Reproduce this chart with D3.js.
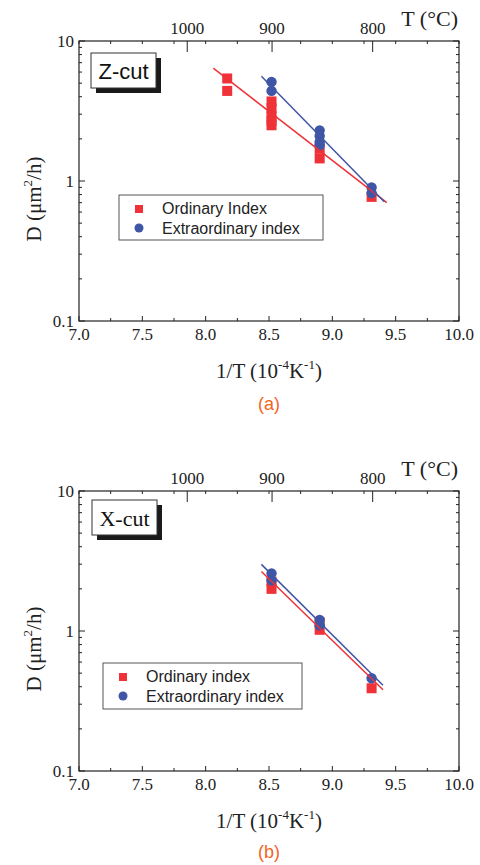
<!DOCTYPE html>
<html>
<head>
<meta charset="utf-8">
<script src="https://cdn.jsdelivr.net/npm/d3@7"></script>
<style>
  body { margin: 0; background: #fff; }
  svg { display: block; }
  .serif { font-family: "Liberation Serif", "Times New Roman", serif; }
  .sans { font-family: "Liberation Sans", Arial, sans-serif; }
</style>
</head>
<body>
<div id="chart"></div>
<script>
// axis ticks
var xMajor = [7.0, 7.5, 8.0, 8.5, 9.0, 9.5, 10.0];
var xMinor = [7.25, 7.75, 8.25, 8.75, 9.25, 9.75];
var tempTicks = [1000, 900, 800];
var yMajor = [0.1, 1, 10];

// Z-cut data (1/T in 1e-4 K^-1, D in um^2/h)
var zOrdX = [8.17, 8.17, 8.52, 8.52, 8.52, 8.52, 8.52, 8.90, 8.90, 9.31];
var zOrdD = [5.4, 4.4, 3.7, 3.3, 2.9, 2.7, 2.5, 1.7, 1.45, 0.77];
var zExtX = [8.52, 8.52, 8.90, 8.90, 8.90, 8.90, 9.31, 9.31];
var zExtD = [5.1, 4.4, 2.3, 2.1, 1.9, 1.8, 0.9, 0.82];
var zOrdFitX = [8.06, 9.43], zOrdFitD = [6.4, 0.70];
var zExtFitX = [8.44, 9.41], zExtFitD = [5.6, 0.71];

// X-cut data
var xOrdX = [8.52, 8.52, 8.90, 8.90, 9.31];
var xOrdD = [2.25, 2.0, 1.15, 1.02, 0.39];
var xExtX = [8.52, 8.52, 8.90, 8.90, 9.31];
var xExtD = [2.58, 2.3, 1.2, 1.1, 0.46];
var xOrdFitX = [8.44, 9.40], xOrdFitD = [2.66, 0.38];
var xExtFitX = [8.44, 9.40], xExtFitD = [2.99, 0.41];

var red = "#ee3237";
var blue = "#3f55a5";

var svg = d3.select("#chart").append("svg")
    .attr("width", 480)
    .attr("height", 865);

var x = d3.scaleLinear().domain([7, 10]).range([79, 459]);

function zip(a, b) { return a.map(function(v, i) { return {x: v, d: b[i]}; }); }

function drawPanel(top, opt) {
    var y = d3.scaleLog().domain([0.1, 10]).range([top + 280, top]);
    var g = svg.append("g");
    var bottom = top + 280;

    // frame
    g.append("rect")
        .attr("x", x(7)).attr("y", top)
        .attr("width", x(10) - x(7)).attr("height", 280)
        .attr("fill", "none").attr("stroke", "#222").attr("stroke-width", 1.2);

    // bottom axis ticks + mirror on top
    xMajor.forEach(function(v) {
        g.append("line").attr("x1", x(v)).attr("x2", x(v))
            .attr("y1", bottom).attr("y2", bottom - 5).attr("stroke", "#222");
        g.append("text").attr("class", "serif")
            .attr("x", x(v)).attr("y", bottom + 19)
            .attr("text-anchor", "middle").attr("font-size", 17).attr("fill", "#222")
            .text(d3.format(".1f")(v));
    });
    xMinor.concat(xMajor).forEach(function(v) {
        if (xMinor.indexOf(v) >= 0) {
            g.append("line").attr("x1", x(v)).attr("x2", x(v))
                .attr("y1", bottom).attr("y2", bottom - 3).attr("stroke", "#222");
        }
        g.append("line").attr("x1", x(v)).attr("x2", x(v))
            .attr("y1", top).attr("y2", top + 3).attr("stroke", "#222");
    });

    // top temperature axis
    tempTicks.forEach(function(t) {
        var xv = x(1e4 / (t + 273.15));
        g.append("line").attr("x1", xv).attr("x2", xv)
            .attr("y1", top).attr("y2", top + 11).attr("stroke", "#222");
        g.append("text").attr("class", "serif")
            .attr("x", xv).attr("y", top - 7)
            .attr("text-anchor", "middle").attr("font-size", 17).attr("fill", "#222")
            .text(t);
    });
    g.append("text").attr("class", "serif")
        .attr("x", 458).attr("y", top - 15)
        .attr("text-anchor", "end").attr("font-size", 22).attr("fill", "#222")
        .text("T (°C)");

    // left / right log axis
    var ticks = y.ticks();
    ticks.forEach(function(v) {
        var major = yMajor.indexOf(v) >= 0;
        var len = major ? 6 : 3;
        g.append("line").attr("x1", x(7)).attr("x2", x(7) + len)
            .attr("y1", y(v)).attr("y2", y(v)).attr("stroke", "#222");
        g.append("line").attr("x1", x(10)).attr("x2", x(10) - len)
            .attr("y1", y(v)).attr("y2", y(v)).attr("stroke", "#222");
    });
    yMajor.forEach(function(v) {
        g.append("text").attr("class", "serif")
            .attr("x", x(7) - 5).attr("y", y(v) + 6)
            .attr("text-anchor", "end").attr("font-size", 17).attr("fill", "#222")
            .text(v);
    });

    // axis titles
    var yl = g.append("text").attr("class", "serif")
        .attr("transform", "translate(41," + (top + 158) + ") rotate(-90)")
        .attr("text-anchor", "middle").attr("font-size", 21).attr("fill", "#222");
    yl.append("tspan").text("D (\u03bcm");
    yl.append("tspan").attr("font-size", 13).attr("dy", -9).text("2");
    yl.append("tspan").attr("dy", 9).text("/h)");

    var xl = g.append("text").attr("class", "serif")
        .attr("x", 269).attr("y", bottom + 57)
        .attr("text-anchor", "middle").attr("font-size", 21).attr("fill", "#222");
    xl.append("tspan").text("1/T (10");
    xl.append("tspan").attr("font-size", 13).attr("dy", -9).text("-4");
    xl.append("tspan").attr("dy", 9).text("K");
    xl.append("tspan").attr("font-size", 13).attr("dy", -9).text("-1");
    xl.append("tspan").attr("dy", 9).text(")");

    g.append("text").attr("class", "sans")
        .attr("x", 269).attr("y", bottom + opt.capOff)
        .attr("text-anchor", "middle").attr("font-size", 18).attr("fill", "#f26522")
        .text(opt.caption);

    // cut label box with shadow
    g.append("rect").attr("x", opt.box[0] + 5).attr("y", opt.box[1] + 5)
        .attr("width", opt.box[2]).attr("height", opt.box[3]).attr("fill", "#1a1a1a");
    g.append("rect").attr("x", opt.box[0]).attr("y", opt.box[1])
        .attr("width", opt.box[2]).attr("height", opt.box[3])
        .attr("fill", "#fff").attr("stroke", "#333").attr("stroke-width", 1);
    g.append("text").attr("class", opt.boxFont)
        .attr("x", opt.box[0] + opt.box[2] / 2).attr("y", opt.box[1] + opt.box[3] / 2 + 8)
        .attr("text-anchor", "middle").attr("font-size", 22).attr("fill", "#111")
        .text(opt.label);

    // markers
    g.selectAll(".sq").data(zip(opt.ordX, opt.ordD)).enter().append("rect")
        .attr("x", function(d) { return x(d.x) - 5; })
        .attr("y", function(d) { return y(d.d) - 5; })
        .attr("width", 10).attr("height", 10).attr("fill", red);
    g.selectAll(".ci").data(zip(opt.extX, opt.extD)).enter().append("circle")
        .attr("cx", function(d) { return x(d.x); })
        .attr("cy", function(d) { return y(d.d); })
        .attr("r", 5.2).attr("fill", blue);

    // fit lines
    var line = d3.line().x(function(d) { return x(d.x); }).y(function(d) { return y(d.d); });
    g.append("path").datum(zip(opt.ordFitX, opt.ordFitD)).attr("d", line)
        .attr("stroke", red).attr("stroke-width", 1.5).attr("fill", "none");
    g.append("path").datum(zip(opt.extFitX, opt.extFitD)).attr("d", line)
        .attr("stroke", blue).attr("stroke-width", 1.5).attr("fill", "none");

    // legend
    var L = opt.legend;
    g.append("rect").attr("x", L[0]).attr("y", L[1]).attr("width", L[2]).attr("height", L[3])
        .attr("fill", "#fff").attr("stroke", "#555").attr("stroke-width", 1);
    g.append("rect").attr("x", L[0] + 16).attr("y", L[1] + 10)
        .attr("width", 8).attr("height", 8).attr("fill", red);
    g.append("circle").attr("cx", L[0] + 20).attr("cy", L[1] + 33)
        .attr("r", 4.5).attr("fill", blue);
    opt.names.forEach(function(n, i) {
        g.append("text").attr("class", "sans")
            .attr("x", L[0] + 43).attr("y", L[1] + 19 + i * 20)
            .attr("font-size", 16).attr("fill", "#222").text(n);
    });
}

drawPanel(41, {
    ordX: zOrdX, ordD: zOrdD, extX: zExtX, extD: zExtD,
    ordFitX: zOrdFitX, ordFitD: zOrdFitD, extFitX: zExtFitX, extFitD: zExtFitD,
    label: "Z-cut", boxFont: "sans", box: [91, 53, 65, 35],
    legend: [119, 195, 204, 45],
    names: ["Ordinary Index", "Extraordinary index"],
    caption: "(a)", capOff: 89
});

drawPanel(491, {
    ordX: xOrdX, ordD: xOrdD, extX: xExtX, extD: xExtD,
    ordFitX: xOrdFitX, ordFitD: xOrdFitD, extFitX: xExtFitX, extFitD: xExtFitD,
    label: "X-cut", boxFont: "serif", box: [92, 500, 65, 35],
    legend: [103, 663, 199, 46],
    names: ["Ordinary index", "Extraordinary index"],
    caption: "(b)", capOff: 87
});
</script>
</body>
</html>
